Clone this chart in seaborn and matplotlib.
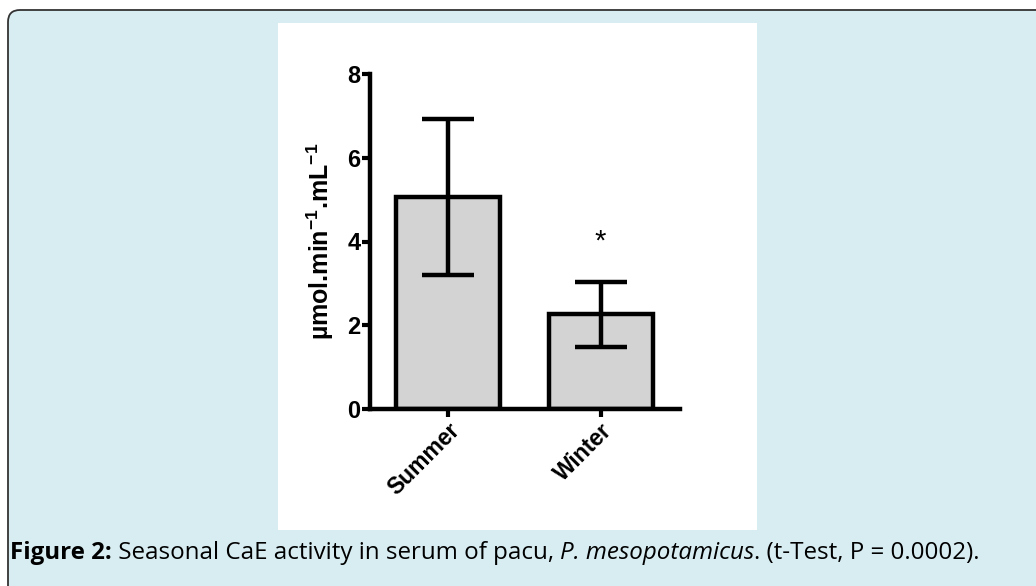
import matplotlib
matplotlib.use("Agg")
import matplotlib.pyplot as plt
import seaborn as sns
import pandas as pd
from matplotlib.patches import FancyBboxPatch, Rectangle
from matplotlib.transforms import IdentityTransform

seasons = ["Summer", "Winter"]
means = [5.07, 2.26]
sds = [1.86, 0.77]
star_y = 4.0
y_ticks = [0, 2, 4, 6, 8]

df = pd.DataFrame({"season": seasons, "value": means})

sns.set_theme(style="ticks")
plt.rcParams["font.family"] = ["Liberation Sans", "DejaVu Sans"]
plt.rcParams["mathtext.fontset"] = "custom"
plt.rcParams["mathtext.rm"] = "Liberation Sans:bold"
plt.rcParams["mathtext.bf"] = "Liberation Sans:bold"
plt.rcParams["text.color"] = "black"
plt.rcParams["axes.labelcolor"] = "black"
plt.rcParams["xtick.color"] = "black"
plt.rcParams["ytick.color"] = "black"

W, H = 1036, 586
fig = plt.figure(figsize=(W / 100, H / 100), dpi=100)
fig.patch.set_facecolor("white")

# rounded light-blue frame and white plot panel (pixel coords)
frame = FancyBboxPatch((8, -60), 1200, 586 - 10 + 60, boxstyle="round,pad=0,rounding_size=12",
                       transform=IdentityTransform(), facecolor="#d8edf2", edgecolor="#333333",
                       linewidth=1.3, zorder=-3)
fig.patches.append(frame)
panel = Rectangle((278, 586 - 530), 757 - 278, 530 - 23, transform=IdentityTransform(),
                  facecolor="white", edgecolor="none", zorder=-2)
fig.patches.append(panel)

ax = fig.add_axes([370 / W, 1 - 409 / H, (680 - 370) / W, (409 - 74) / H])
ax.set_facecolor("none")

sns.barplot(data=df, x="season", y="value", ax=ax, color="#d3d3d3", width=0.68,
            edgecolor="black", linewidth=3.2, errorbar=None, saturation=1)
ax.errorbar(range(len(seasons)), means, yerr=sds, fmt="none", ecolor="black",
            elinewidth=3.2, capsize=19, capthick=3.2, zorder=5)
ax.text(1, star_y, "*", ha="center", va="center", fontsize=21, color="black")

ax.set_xlim(-0.51, 1.52)
ax.set_ylim(0, 8)
ax.set_yticks(y_ticks)
ax.set_yticklabels([str(t) for t in y_ticks], fontsize=17, fontweight="bold", color="black")
ax.set_xticks(range(len(seasons)))
ax.set_xticklabels(seasons, fontsize=16.5, fontweight="bold", rotation=45,
                   ha="right", rotation_mode="anchor", color="black")
ax.set_xlabel("")
ax.set_ylabel("\u00b5mol.min$^{-1}$.mL$^{-1}$",
              fontsize=18, fontweight="bold", labelpad=8, color="black")
for s in ["top", "right"]:
    ax.spines[s].set_visible(False)
for s in ["left", "bottom"]:
    ax.spines[s].set_linewidth(3.2)
    ax.spines[s].set_color("black")
ax.tick_params(axis="both", width=3, length=6, color="black", pad=1)

# caption with mixed styles
fig.canvas.draw()
renderer = fig.canvas.get_renderer()
cap_parts = [
    ("Figure 2:", "bold", "normal"),
    (" Seasonal CaE activity in serum of pacu, ", "normal", "normal"),
    ("P. mesopotamicus", "normal", "italic"),
    (". (t-Test, P = 0.0002).", "normal", "normal"),
]
x_px = 10
y_px = H - 553
for txt, wt, st in cap_parts:
    t = fig.text(x_px / W, y_px / H, txt, fontsize=17.4, fontweight=wt, fontstyle=st,
                 family=["Open Sans", "DejaVu Sans"], va="center", ha="left", color="black")
    bb = t.get_window_extent(renderer)
    x_px = bb.x1

fig.savefig("out.png", dpi=100)
